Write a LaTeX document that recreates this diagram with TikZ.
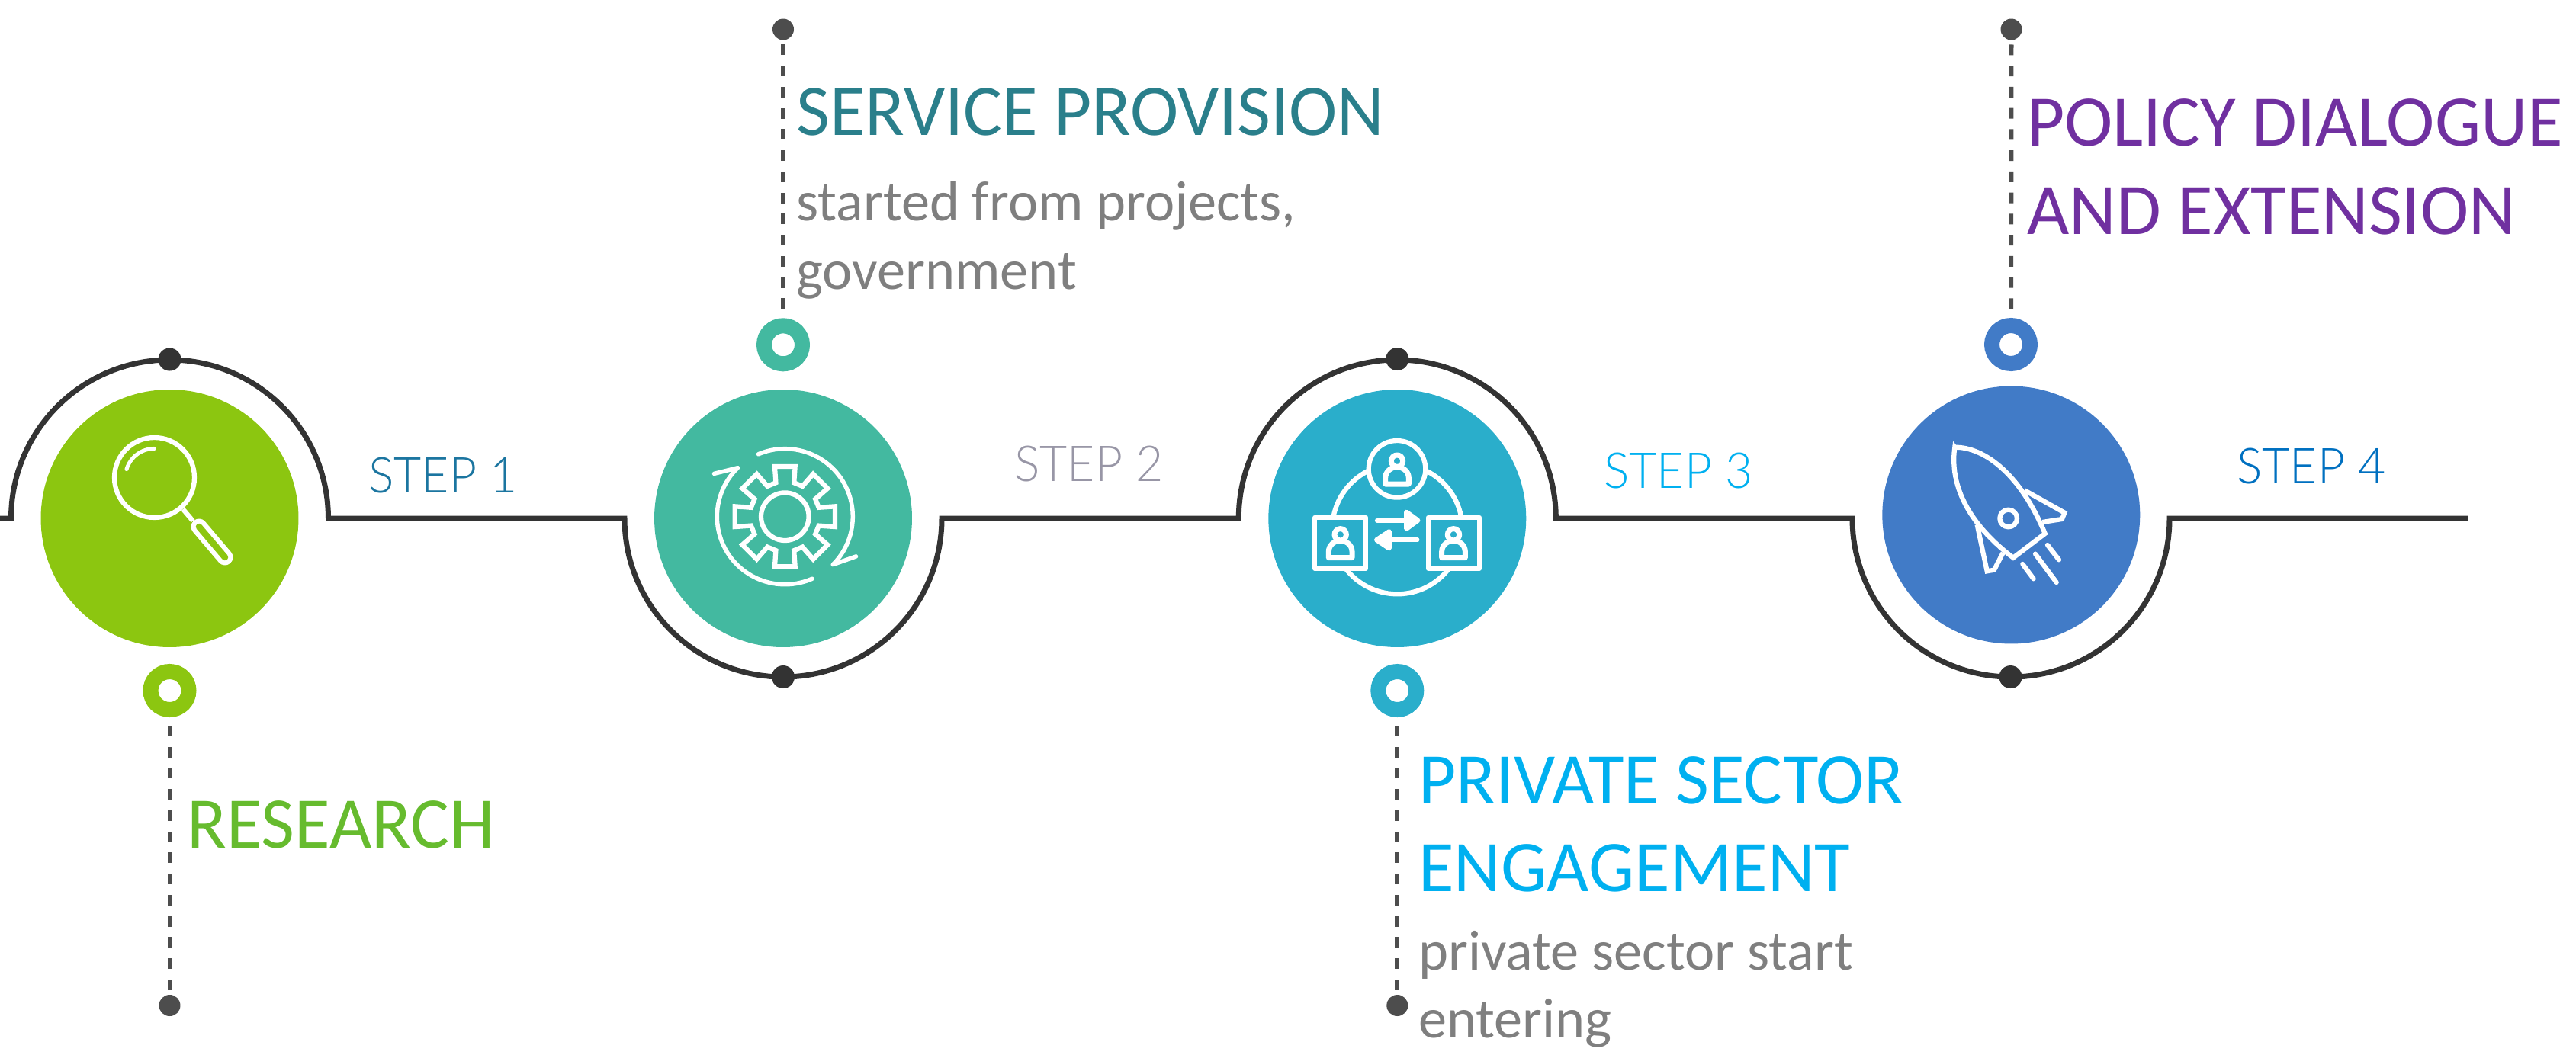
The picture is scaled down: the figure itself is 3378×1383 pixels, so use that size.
\documentclass[tikz,border=0pt]{standalone}
\usepackage{fontspec}
\setmainfont{Carlito}
\newfontfamily\stepf[FakeStretch=0.96]{Lato Light}
\definecolor{cgreen}{HTML}{8CC610}
\definecolor{cteal}{HTML}{43B9A0}
\definecolor{ccyan}{HTML}{2AAECB}
\definecolor{cblue}{HTML}{417BC7}
\definecolor{tgreen}{HTML}{66BB2E}
\definecolor{tteal}{HTML}{2A7F8B}
\definecolor{tcyan}{HTML}{00B0F0}
\definecolor{tpurple}{HTML}{7030A0}
\definecolor{tgray}{HTML}{7F7F7F}
\definecolor{stepa}{HTML}{1B75A0}
\definecolor{stepb}{HTML}{9896A6}
\definecolor{stepc}{HTML}{00B0F0}
\definecolor{stepd}{HTML}{0070C0}
\definecolor{trackc}{HTML}{333333}
\definecolor{dashc}{HTML}{4D4D4D}
\tikzset{
  bigdisc/.style={circle,fill=#1,minimum size=6.76cm,inner sep=0pt,outer sep=0pt},
  ringdot/.style={circle,draw=#1,line width=0.4cm,fill=white,minimum size=1cm,inner sep=0pt},
  trackdot/.style={circle,fill=trackc,minimum size=0.6cm,inner sep=0pt,outer sep=0pt},
  enddot/.style={circle,fill=dashc,minimum size=0.56cm,inner sep=0pt,outer sep=0pt},
  track/.style={draw=trackc,line width=0.14cm},
  leader/.style={draw=dashc,line width=0.12cm,dash pattern=on 0.28cm off 0.275cm},
  icon/.style={draw=white,line width=0.125cm,line cap=round,line join=round},
  titletext/.style={anchor=base west,inner sep=0pt,align=left,font=\fontsize{54.3}{65.5}\selectfont,text=#1},
  bodytext/.style={anchor=base west,inner sep=0pt,align=left,font=\fontsize{42.3}{51}\selectfont,text=tgray},
  steptext/.style={anchor=base west,inner sep=0pt,font=\stepf\fontsize{37}{44}\selectfont,text=#1},
  personicon/.pic={
    \begin{scope}[yscale=-1]
    \draw[pic actions] (-15.3,30.3) -- (-15.3,22) .. controls (-15.3,14) and (-8,8) .. (0,8)
      .. controls (8,8) and (15.3,14) .. (15.3,22) -- (15.3,30.3) -- cycle;
    \draw[pic actions] (0,0) circle[radius=7.7];
    \end{scope}
  }
}
\begin{document}
\begin{tikzpicture}[x=0.02cm,y=0.02cm,yscale=-1]
\useasboundingbox (0,0) rectangle (3378,1383);
% track
\coordinate (start) at (0,680);
\coordinate (arcA) at (14.5,680);
\coordinate (arcB) at (819,680);
\coordinate (arcC) at (1624.3,680);
\coordinate (arcD) at (2429,680);
\coordinate (finish) at (3236,680);
\draw[track] (start) -- (arcA) arc[start angle=180,end angle=360,radius=208]
  -- (arcB) arc[start angle=180,end angle=0,radius=208]
  -- (arcC) arc[start angle=180,end angle=360,radius=208]
  -- (arcD) arc[start angle=180,end angle=0,radius=208]
  -- (finish);
% discs
\node[bigdisc=cgreen] (c1) at (222.5,680) {};
\node[bigdisc=cteal] (c2) at (1027,680) {};
\node[bigdisc=ccyan] (c3) at (1832.3,680) {};
\node[bigdisc=cblue] (c4) at (2637.3,675.5) {};
% dots on track
\node[trackdot] (t1) at (222.5,471.5) {};
\node[trackdot] (t2) at (1027,888) {};
\node[trackdot] (t3) at (1832.3,471) {};
\node[trackdot] (t4) at (2636.5,888) {};
% rings
\node[ringdot=cgreen] (r1) at (222.5,906) {};
\node[ringdot=cteal] (r2) at (1027,452.3) {};
\node[ringdot=ccyan] (r3) at (1832.3,906) {};
\node[ringdot=cblue] (r4) at (2637,452) {};
% end dots
\node[enddot] (e1) at (222.5,1319) {};
\node[enddot] (e2) at (1027,38.5) {};
\node[enddot] (e3) at (1832.3,1319) {};
\node[enddot] (e4) at (2637.5,38.5) {};
% leaders
\draw[leader,shorten <=0.22cm,shorten >=0.12cm] (r1) -- (e1);
\draw[leader,shorten <=0.12cm,shorten >=0.2cm] (e2) -- (r2);
\draw[leader,shorten <=0.22cm,shorten >=0.12cm] (r3) -- (e3);
\draw[leader,shorten <=0.12cm,shorten >=0.2cm] (e4) -- (r4);
% magnifier
\draw[icon] (202.5,626.5) circle[radius=52.5];
\draw[icon,line width=0.1cm] (166,615.6) arc[start angle=196.6,end angle=270,radius=38];
\draw[icon,line cap=butt] (240,668) -- (253,683.4);
\draw[icon,line width=0.42cm] (261,691) -- (295,731);
\draw[draw=cgreen,line width=0.17cm,line cap=round] (261,691) -- (295,731);
% gear
\begin{scope}[shift={(1029.3,677.7)}]
\draw[icon,line join=miter] (-15:46) -- (-11.5:67) -- (11.5:67) -- (15:46)
  \foreach \a in {45,90,135,180,225,270,315}{
    -- (\a-15:46) -- (\a-11.5:67) -- (\a+11.5:67) -- (\a+15:46)
  } -- cycle;
\draw[icon] (0,0) circle[radius=31.3];
\draw[icon,line width=0.11cm] (247:89) arc[start angle=247,end angle=405,radius=89]
  -- ++(30.3,-10.7);
\draw[icon,line width=0.11cm] (66.4:89) arc[start angle=66.4,end angle=226,radius=89]
  -- ++(-31,7.7);
\end{scope}
% network
\draw[icon] (1832.3,694) circle[radius=85.3];
\draw[icon,fill=ccyan] (1832,615.3) circle[radius=37.3];
\draw[icon,fill=ccyan,line join=round] (1724.3,678.7) rectangle (1791,745.7);
\draw[icon,fill=ccyan,line join=round] (1873,678.7) rectangle (1940,745.7);
\pic[icon,fill=ccyan,line width=0.14cm] at (1832,604.7) {personicon};
\pic[icon,fill=ccyan,line width=0.14cm] at (1757.7,701.3) {personicon};
\pic[icon,fill=ccyan,line width=0.14cm] at (1906,701.3) {personicon};
\draw[icon] (1806,682.7) -- (1844,682.7);
\draw[icon,fill=white] (1844.3,671.7) -- (1859.3,682.7) -- (1844.3,693.7) -- cycle;
\draw[icon] (1858.3,708.3) -- (1821,708.3);
\draw[icon,fill=white] (1821.7,697.3) -- (1805,708.3) -- (1821.7,719.3) -- cycle;
% rocket
\begin{scope}[shift={(2420,400)},scale=1/3]
\draw[icon,line join=miter] (430,560) .. controls (550,560) and (690,670) .. (785,900)
  -- (660,995) .. controls (520,890) and (405,740) .. cycle;
\draw[icon,line join=miter,line cap=butt] (705,730) -- (862,818) -- (852,843) -- (775,855);
\draw[icon,line join=miter,line cap=butt] (518,865) -- (557,1048) -- (585,1043) -- (620,975);
\draw[icon] (641,840) circle[radius=34];
\draw[icon] (795,945) -- (840,1003);
\draw[icon] (747,980) -- (830,1092);
\draw[icon] (697,1020) -- (740,1078);
\end{scope}
% step labels
\node[steptext=stepa] (s1) at (483,646.7) {STEP 1};
\node[steptext=stepb] (s2) at (1330,631.7) {STEP 2};
\node[steptext=stepc] (s3) at (2103,640) {STEP 3};
\node[steptext=stepd] (s4) at (2933,634) {STEP 4};
% titles
\node[titletext=tgreen] (h1) at (245,1112.3) {RESEARCH};
\node[titletext=tteal] (h2) at (1044,177.3) {SERVICE PROVISION};
\node[bodytext] (b2) at (1044,379.3) {started from projects,\\government};
\node[titletext=tcyan] (h3) at (1860,1169.3) {PRIVATE SECTOR\\ENGAGEMENT};
\node[bodytext] (b3) at (1860,1361.7) {private sector start\\entering};
\node[titletext=tpurple] (h4) at (2658,307) {POLICY DIALOGUE\\AND EXTENSION};
\end{tikzpicture}
\end{document}
